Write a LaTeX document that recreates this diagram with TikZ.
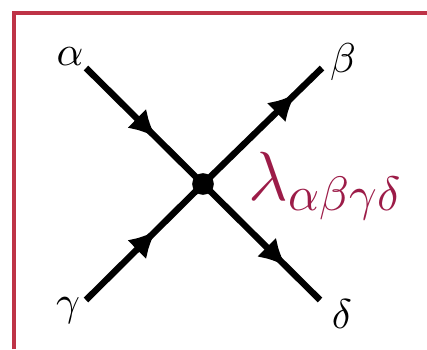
\documentclass[tikz,border=0pt]{standalone}
\usetikzlibrary{arrows.meta,decorations.markings}
\definecolor{framered}{HTML}{BE3347}
\definecolor{lamcol}{HTML}{9C1C48}
\tikzset{
  prop/.style={line width=1.55pt, line cap=butt},
  lbl/.style={inner sep=0pt, anchor=base},
  vtx/.style={circle, fill=black, inner sep=0pt, minimum size=5.2pt},
  arrowat/.style={postaction={decorate, decoration={markings,
    mark=at position #1 with {\arrow{Latex[length=6.5pt,width=6.5pt]}}}}},
}
\begin{document}
\begin{tikzpicture}[x=0.24pt, y=-0.24pt]
\useasboundingbox (0,0) rectangle (427,349);
\draw[framered, line width=1.1pt] (14,349) -- (14,13) -- (427,13);
\coordinate (a) at (86,68);
\coordinate (b) at (322,68);
\coordinate (g) at (86,300);
\coordinate (d) at (320,300);
\node[vtx] (v) at (203,184) {};
\draw[prop, arrowat=0.6] (a) -- (v.center);
\draw[prop, arrowat=0.78] (v.center) -- (b);
\draw[prop, arrowat=0.6] (g) -- (v.center);
\draw[prop, arrowat=0.71] (v.center) -- (d);
\node[lbl] (la) at (70,65) {$\alpha$};
\node[lbl] (lb) at (343,72) {$\beta$};
\node[lbl] (lg) at (68,315) {$\gamma$};
\node[lbl] (ld) at (342,328) {$\delta$};
\node[inner sep=0pt, anchor=base west, text=lamcol, scale=1.16] (lam) at (248,200) {\Large$\lambda_{\alpha\beta\gamma\delta}$};
\end{tikzpicture}
\end{document}
